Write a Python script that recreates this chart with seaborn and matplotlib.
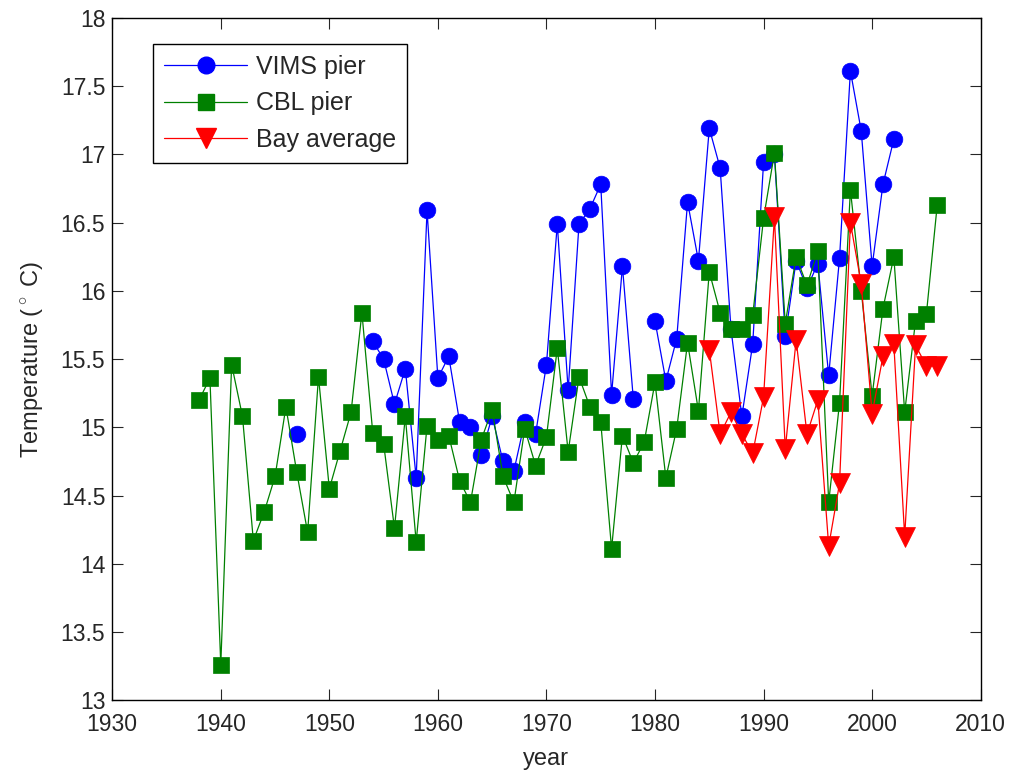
import numpy as np
import pandas as pd
import matplotlib
matplotlib.use("Agg")
import matplotlib.pyplot as plt
from matplotlib.lines import Line2D
from matplotlib.ticker import FormatStrFormatter
import seaborn as sns

# yearly mean water temperature
years = list(range(1938, 2007))
nan = np.nan

vims = [nan] * 9 + [14.95] + [nan] * 6 + [
    15.63, 15.50, 15.17, 15.43, 14.63, 16.59, 15.36, 15.52, 15.04, 15.00,
    14.80, 15.08, 14.75, 14.68, 15.04, 14.95, 15.46, 16.49, 15.27, 16.49,
    16.60, 16.78, 15.24, 16.18, 15.21,
    nan,
    15.78, 15.34, 15.65, 16.65, 16.22, 17.19, 16.90, 15.72, 15.08, 15.61,
    16.94, 17.00, 15.67, 16.22, 16.02, 16.20, 15.38, 16.24, 17.61, 17.17,
    16.18, 16.78, 17.11,
] + [nan] * 4

cbl = [
    15.20, 15.36, 13.26, 15.46, 15.08, 14.17, 14.38, 14.64, 15.15, 14.67,
    14.23, 15.37, 14.55, 14.83, 15.11, 15.84, 14.96, 14.88, 14.26, 15.08,
    14.16, 15.01, 14.91, 14.94, 14.61, 14.45, 14.91, 15.13, 14.64, 14.45,
    14.99, 14.72, 14.93, 15.58, 14.82, 15.37, 15.15, 15.04, 14.11, 14.94,
    14.74, 14.89, 15.33, 14.63, 14.99, 15.62, 15.12, 16.14, 15.84, 15.72,
    15.72, 15.82, 16.53, 17.01, 15.76, 16.25, 16.04, 16.29, 14.45, 15.18,
    16.74, 16.00, 15.23, 15.87, 16.25, 15.11, 15.78, 15.83, 16.63,
]

bay = [nan] * 47 + [
    15.57, 14.95, 15.11, 14.95, 14.81, 15.22, 16.54, 14.84, 15.64, 14.95,
    15.20, 14.13, 14.59, 16.50, 16.05, 15.10, 15.52, 15.61, 14.20, 15.60,
    15.45, 15.45,
]

names = ["VIMS pier", "CBL pier", "Bay average"]
colors = ["#0000ff", "#008000", "#ff0000"]
markers = ["o", "s", "v"]
msizes = [12, 12, 14]


def to_long(vals, name):
    d = pd.DataFrame({"year": years, "temp": vals})
    # new segment id after every gap so lines break at missing years
    d["seg"] = d["temp"].isna().cumsum()
    d = d.dropna()
    d["series"] = name
    return d


sns.set_style("ticks")
plt.rcParams["font.family"] = ["Liberation Sans", "DejaVu Sans"]
plt.rcParams["mathtext.fontset"] = "custom"
plt.rcParams["mathtext.rm"] = "Liberation Sans"

fig = plt.figure(figsize=(10.11, 7.73), dpi=100)
ax = fig.add_axes([0.111, 0.094, 0.859, 0.883])

handles = []
for vals, name, c, m, ms in zip([vims, cbl, bay], names, colors, markers, msizes):
    d = to_long(vals, name)
    sns.lineplot(data=d, x="year", y="temp", units="seg", estimator=None,
                 color=c, marker=m, markersize=ms, markeredgecolor=c,
                 markeredgewidth=0.5, linewidth=0.9, ax=ax, legend=False)
    handles.append(Line2D([0], [0], color=c, marker=m, markersize=ms,
                          markeredgecolor=c, linewidth=0.9, label=name))

ax.set_xlim(1930, 2010)
ax.set_ylim(13, 18)
ax.set_xticks(range(1930, 2011, 10))
ax.set_yticks(np.arange(13, 18.01, 0.5))
ax.yaxis.set_major_formatter(FormatStrFormatter("%g"))
ax.tick_params(direction="in", length=8, width=0.8, top=True, right=True,
               labelsize=16.5, pad=5)
ax.tick_params(axis="x", pad=9)
for s in ax.spines.values():
    s.set_visible(True)
    s.set_linewidth(1.0)
    s.set_color("black")

ax.set_xlabel("year", fontsize=17, labelpad=9)
ax.set_ylabel("Temperature ($^\\circ$ C)", fontsize=17, labelpad=10)

leg = ax.legend(handles=handles, loc="upper left",
                bbox_to_anchor=(0.047, 0.962), borderaxespad=0,
                fontsize=18, handlelength=3.3, handletextpad=0.35,
                labelspacing=0.5, borderpad=0.45, fancybox=False,
                framealpha=1, edgecolor="black")
leg.get_frame().set_linewidth(1.0)

plt.savefig("out.png", dpi=100)
